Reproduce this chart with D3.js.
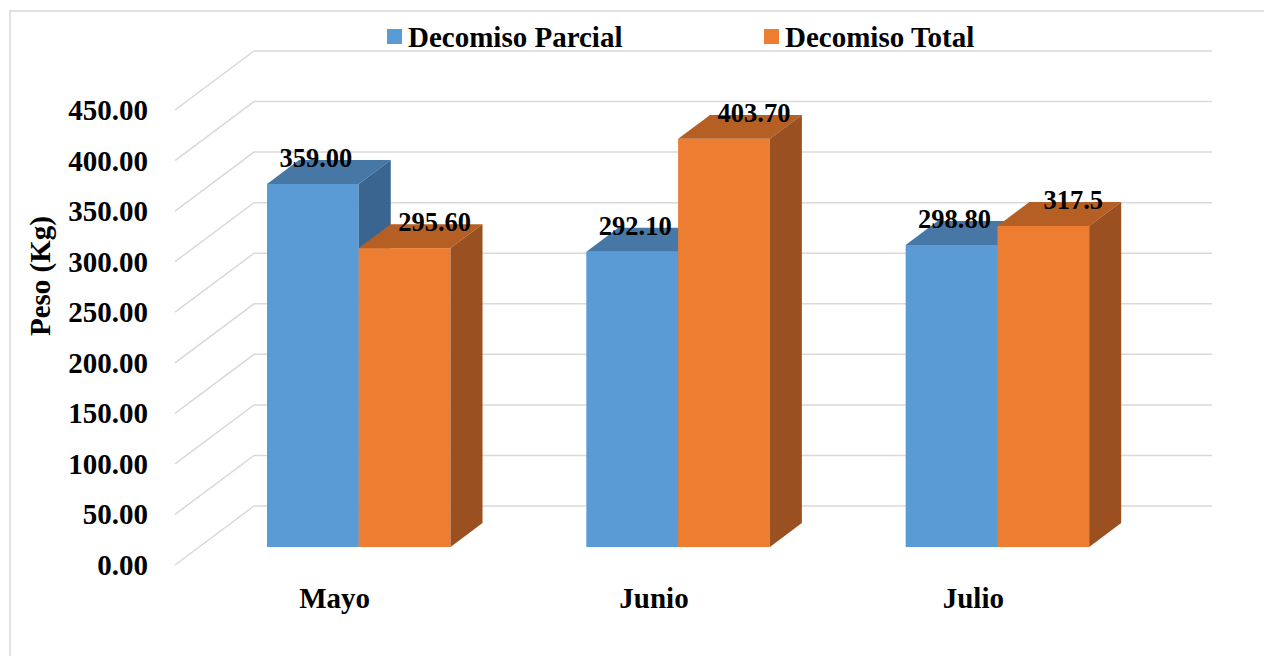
<!DOCTYPE html>
<html>
<head>
<meta charset="utf-8">
<script src="https://cdn.jsdelivr.net/npm/d3@7"></script>
<style>
  html, body { margin: 0; padding: 0; background: #fff; overflow: hidden; }
  svg text { font-family: "Liberation Serif", "Times New Roman", serif; font-weight: bold; fill: #000; }
</style>
</head>
<body>
<svg id="chart" width="1264" height="656"></svg>
<script>
// chart data
const categories = ["Mayo", "Junio", "Julio"];
const seriesNames = ["Decomiso Parcial", "Decomiso Total"];
const parcialValues = [359.00, 292.10, 298.80];
const totalValues = [295.60, 403.70, 317.5];
const parcialLabels = ["359.00", "292.10", "298.80"];
const totalLabels = ["295.60", "403.70", "317.5"];
const yTicks = [0, 50, 100, 150, 200, 250, 300, 350, 400, 450];

const svg = d3.select('#chart');

// colours per series: front, top, side
const faceColors = [
    { front: '#5B9BD5', top: '#4677A5', side: '#3B6591' },
    { front: '#ED7D31', top: '#B55F24', side: '#9A5020' }
];
const labelShift = [3, 30];

// 3d depth vector of the floor/walls
const depthX = 79, depthY = -59;
const barT0 = 0.305, barT1 = 0.71;

const x0 = d3.scaleBand().domain(categories).range([175, 1133]).padding(0);
const x1 = d3.scaleBand().domain(seriesNames).range([0, x0.bandwidth()])
    .paddingInner(0).paddingOuter(0.74);
const y = d3.scaleLinear().domain([0, 450]).range([565, 110]);

// outer border
svg.append('rect')
    .attr('x', 10).attr('y', 11)
    .attr('width', 1300).attr('height', 700)
    .attr('fill', 'none')
    .attr('stroke', '#D9D9D9')
    .attr('stroke-width', 1.5);

// gridlines: side wall diagonal + back wall line
const grid = svg.append('g');
yTicks.forEach(v => {
    const fy = y(v);
    const fx = x0.range()[0];
    const bx = fx + depthX, by = fy + depthY;
    grid.append('polyline')
        .attr('points', `${fx},${fy} ${bx},${by} ${x0.range()[1] + depthX},${by}`)
        .attr('fill', 'none')
        .attr('stroke', '#D9D9D9')
        .attr('stroke-width', 1.5);
});

// y tick labels
svg.append('g').selectAll('text')
    .data(yTicks)
    .enter()
    .append('text')
    .attr('x', 148)
    .attr('y', d => y(d) + 10)
    .attr('text-anchor', 'end')
    .attr('font-size', 29)
    .text(d => d.toFixed(2));

// y title
svg.append('text')
    .attr('transform', 'translate(50, 276) rotate(-90)')
    .attr('text-anchor', 'middle')
    .attr('font-size', 29)
    .text('Peso (Kg)');

// bars
const seriesValues = [parcialValues, totalValues];
const seriesLabels = [parcialLabels, totalLabels];
const bars = svg.append('g');
const labels = svg.append('g');

categories.forEach((cat, ci) => {
    seriesNames.forEach((name, si) => {
        const v = seriesValues[si][ci];
        const c = faceColors[si];
        const sx0 = x0(cat) + x1(name) + depthX * barT0;
        const sx1 = sx0 + x1.bandwidth();
        const sy0 = y(0) + depthY * barT0;
        const syTop = y(v) + depthY * barT0;
        const ddx = depthX * (barT1 - barT0), ddy = depthY * (barT1 - barT0);

        // front
        bars.append('rect')
            .attr('x', sx0).attr('y', syTop)
            .attr('width', sx1 - sx0).attr('height', sy0 - syTop)
            .attr('fill', c.front);
        // top
        bars.append('polygon')
            .attr('points', `${sx0},${syTop} ${sx1},${syTop} ${sx1 + ddx},${syTop + ddy} ${sx0 + ddx},${syTop + ddy}`)
            .attr('fill', c.top);
        // side
        bars.append('polygon')
            .attr('points', `${sx1},${syTop} ${sx1 + ddx},${syTop + ddy} ${sx1 + ddx},${sy0 + ddy} ${sx1},${sy0}`)
            .attr('fill', c.side);

        labels.append('text')
            .attr('x', (sx0 + sx1) / 2 + labelShift[si])
            .attr('y', syTop + ddy + 7)
            .attr('text-anchor', 'middle')
            .attr('font-size', 26.5)
            .text(seriesLabels[si][ci]);
    });
});

// category labels
svg.append('g').selectAll('text')
    .data(categories)
    .enter()
    .append('text')
    .attr('x', d => x0(d) + x0.bandwidth() / 2)
    .attr('y', 608)
    .attr('text-anchor', 'middle')
    .attr('font-size', 29)
    .text(d => d);

// legend
const legendX = [387, 764];
const legend = svg.append('g');
seriesNames.forEach((name, i) => {
    legend.append('rect')
        .attr('x', legendX[i]).attr('y', 29)
        .attr('width', 15).attr('height', 15)
        .attr('fill', faceColors[i].front);
    legend.append('text')
        .attr('x', legendX[i] + 21)
        .attr('y', 47)
        .attr('font-size', 29)
        .text(name);
});
</script>
</body>
</html>
